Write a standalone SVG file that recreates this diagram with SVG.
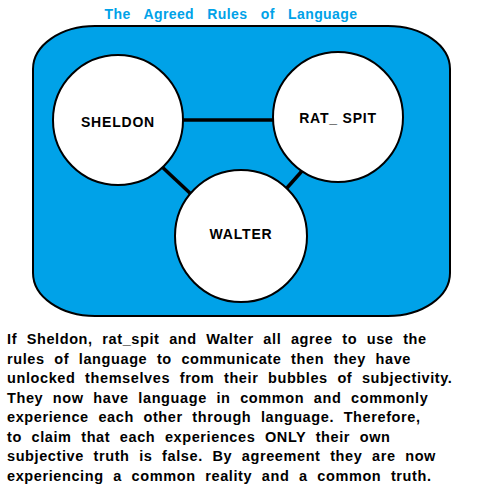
<svg xmlns="http://www.w3.org/2000/svg" width="480" height="500" viewBox="0 0 480 500">
<style>
.t{font-family:"Liberation Sans",Arial,sans-serif;font-weight:bold}
.title{font-size:14px;fill:#00a2e8;word-spacing:9px;letter-spacing:0.4px}
.lbl{font-size:14px;fill:#000;text-anchor:middle;letter-spacing:0.8px}
.p{font-size:14.5px;fill:#000;word-spacing:5px;letter-spacing:0.6px}
.node{fill:#fff;stroke:#000;stroke-width:2}
.edge{stroke:#000;stroke-width:3.5}
</style>
<rect width="480" height="500" fill="#fff"/>
<text class="t title" x="231" y="19" text-anchor="middle">The Agreed Rules of Language</text>
<rect x="33" y="26" width="417" height="290" rx="62" ry="43" fill="#00a2e8" stroke="#000" stroke-width="2"/>
<g id="connectors">
<line class="edge" x1="180" y1="120" x2="275" y2="120"/>
<line class="edge" x1="160" y1="165" x2="192" y2="195"/>
<line class="edge" x1="302" y1="171" x2="286" y2="189"/>
</g>
<g id="sheldon"><circle class="node" cx="118" cy="120" r="65"/><text class="t lbl" x="118" y="127">SHELDON</text></g>
<g id="ratspit"><circle class="node" cx="338" cy="117" r="65"/><text class="t lbl" x="338" y="123">RAT_ SPIT</text></g>
<g id="walter"><circle class="node" cx="241" cy="236" r="66"/><text class="t lbl" x="241" y="239">WALTER</text></g>
<g id="paragraph" class="t p">
<text x="7" y="344">If Sheldon, rat_spit and Walter all agree to use the</text>
<text x="7" y="363.5">rules of language to communicate then they have</text>
<text x="7" y="383">unlocked themselves from their bubbles of subjectivity.</text>
<text x="7" y="402.5">They now have language in common and commonly</text>
<text x="7" y="422">experience each other through language. Therefore,</text>
<text x="7" y="441.5">to claim that each experiences ONLY their own</text>
<text x="7" y="461">subjective truth is false.  By agreement they are now</text>
<text x="7" y="480.5">experiencing a common reality and a common truth.</text>
</g>
</svg>
